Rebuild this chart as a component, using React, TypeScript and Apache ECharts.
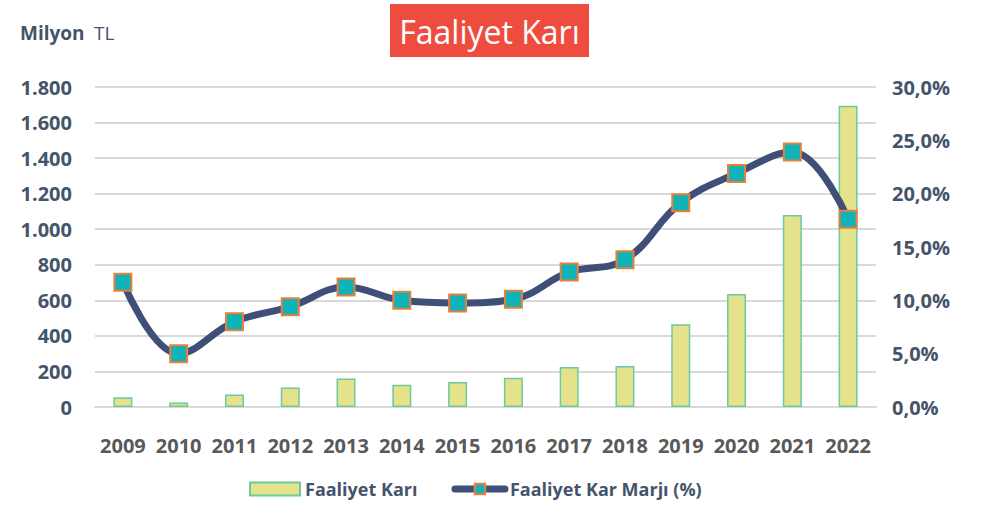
import React, { useEffect, useRef } from "react";
import * as echarts from "echarts";

const years = ["2009","2010","2011","2012","2013","2014","2015","2016","2017","2018","2019","2020","2021","2022"];
const faaliyetKari = [55, 25, 70, 110, 160, 125, 140, 165, 225, 230, 465, 635, 1080, 1695];
const karMarji = [11.7, 5.0, 8.0, 9.4, 11.25, 10.0, 9.75, 10.1, 12.65, 13.8, 19.15, 21.9, 23.9, 17.6];

const textColor = "#44546a";
const font = "'Open Sans', 'Noto Sans', sans-serif";

export default function App() {
  const ref = useRef<HTMLDivElement>(null);
  useEffect(() => {
    const chart = echarts.init(ref.current!, null, { renderer: "svg" });
    chart.setOption({
      animation: false,
      backgroundColor: "#ffffff",
      textStyle: { fontFamily: font },
      graphic: [
        { type: "rect", shape: { x: 390, y: 4, width: 199, height: 53 }, style: { fill: "#ef4c40" } },
        { type: "text", x: 489.5, y: 31, style: { text: "Faaliyet Karı", fill: "#ffffff", font: "32px 'Open Sans', sans-serif", textAlign: "center", textVerticalAlign: "middle" } },
        { type: "text", x: 20, y: 33, style: { text: "Milyon", fill: textColor, font: "bold 19px 'Open Sans', sans-serif", textVerticalAlign: "middle" } },
        { type: "text", x: 94, y: 33, style: { text: "TL", fill: textColor, font: "19px 'Open Sans', sans-serif", textVerticalAlign: "middle" } },
      ],
      grid: { left: 95, right: 110, top: 87, bottom: 100 },
      legend: {
        bottom: 4,
        left: 244,
        itemWidth: 50,
        itemHeight: 13,
        itemGap: 34,
        textStyle: { color: textColor, fontWeight: "bold", fontSize: 18, fontFamily: font },
        lineStyle: { width: 7, cap: "round" },
        data: [
          { name: "Faaliyet Karı", icon: "rect" },
          { name: "Faaliyet Kar Marjı (%)" },
        ],
      },
      xAxis: {
        type: "category",
        data: years,
        axisLine: { lineStyle: { color: "#d9d9d9", width: 2 } },
        axisTick: { show: false },
        axisLabel: { interval: 0, color: "#595959", fontSize: 20, fontWeight: "bold", margin: 28, fontFamily: font },
      },
      yAxis: [
        {
          type: "value", min: 0, max: 1800, interval: 200,
          axisLabel: {
            color: textColor, fontSize: 20, fontWeight: "bold", margin: 23, fontFamily: font,
            formatter: (v: number) => v.toLocaleString("de-DE"),
          },
          splitLine: { lineStyle: { color: "#d9d9d9", width: 2 } },
          axisLine: { show: false }, axisTick: { show: false },
        },
        {
          type: "value", min: 0, max: 30, interval: 5,
          axisLabel: {
            color: textColor, fontSize: 20, fontWeight: "bold", margin: 16, fontFamily: font,
            formatter: (v: number) => v.toFixed(1).replace(".", ",") + "%",
          },
          splitLine: { show: false },
          axisLine: { show: false }, axisTick: { show: false },
        },
      ],
      series: [
        {
          name: "Faaliyet Karı",
          type: "bar",
          data: faaliyetKari,
          barWidth: 19,
          itemStyle: { color: "#e4e38c", borderColor: "#6cc9a0", borderWidth: 1.5 },
        },
        {
          name: "Faaliyet Kar Marjı (%)",
          type: "line",
          yAxisIndex: 1,
          data: karMarji,
          smooth: 0.4,
          symbol: "rect",
          symbolSize: 17,
          lineStyle: { color: "#3f4f78", width: 7 },
          itemStyle: { color: "#0fb3b8", borderColor: "#e8803a", borderWidth: 2 },
          z: 5,
        },
      ],
    });
    return () => chart.dispose();
  }, []);
  return <div ref={ref} style={{ width: 986, height: 507, position: "absolute", left: 0, top: 0 }} />;
}
